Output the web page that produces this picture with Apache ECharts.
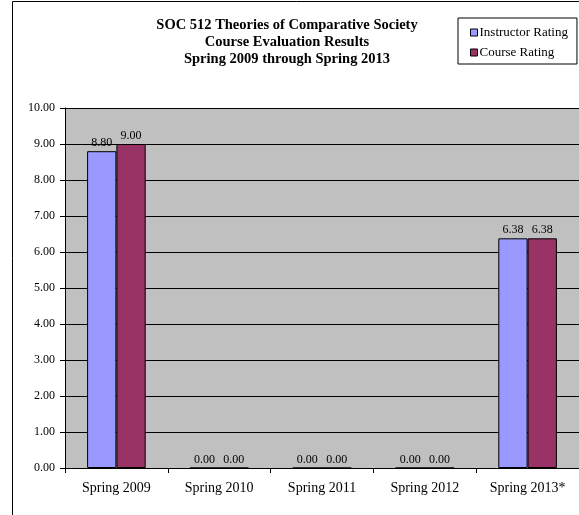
<!DOCTYPE html>
<html><head><meta charset="utf-8">
<script src="https://cdn.jsdelivr.net/npm/echarts@6/dist/echarts.min.js"></script>
<style>html,body{margin:0;padding:0;background:#fff}#c{width:579px;height:515px}</style>
</head><body><div id="c"></div>
<script>
const categories = ['Spring 2009','Spring 2010','Spring 2011','Spring 2012','Spring 2013*'];
const instructorRating = [8.80, 0, 0, 0, 6.38];
const courseRating = [9.00, 0, 0, 0, 6.38];
const seriesNames = ['Instructor Rating','Course Rating'];
const titleLines = ['SOC 512 Theories of Comparative Society','Course Evaluation Results','Spring 2009 through Spring 2013'];

const font = 'Liberation Serif, Times New Roman, serif';
const chart = echarts.init(document.getElementById('c'));
const lbl = {show:true, position:'top', distance:2, color:'#000', fontFamily:font, fontSize:12,
  formatter: p => p.value.toFixed(2)};
chart.setOption({
  animation:false,
  backgroundColor:'#fff',
  graphic:[{type:'rect', shape:{x:12.5, y:1.5, width:700, height:700}, style:{fill:'none', stroke:'#000', lineWidth:1}, z:-1}],
  title:{text:titleLines.join('\n'), left:282, textAlign:'center', top:12,
    textStyle:{fontFamily:font, fontSize:14.5, fontWeight:'bold', color:'#000', lineHeight:17}},
  legend:{orient:'vertical', left:458, top:18, padding:[8,9,5,12], itemGap:7,
    borderColor:'#000', borderWidth:1, backgroundColor:'#fff', icon:'rect', itemWidth:7, itemHeight:7,
    itemStyle:{borderColor:'#000', borderWidth:1},
    textStyle:{fontFamily:font, fontSize:13, color:'#000', padding:[0,0,0,-3]}, data:seriesNames},
  grid:{left:65, right:-1, top:108, bottom:47, backgroundColor:'#C0C0C0', show:true, borderWidth:0},
  xAxis:{type:'category', data:categories,
    axisLine:{lineStyle:{color:'#000'}}, axisTick:{show:true, length:5, lineStyle:{color:'#000'}},
    axisLabel:{fontFamily:font, fontSize:14, color:'#000', margin:13}},
  yAxis:{type:'value', min:0, max:10, interval:1,
    axisLine:{show:true, lineStyle:{color:'#000'}}, axisTick:{show:true, length:5, lineStyle:{color:'#000'}},
    splitLine:{lineStyle:{color:'#000', width:1}},
    axisLabel:{fontFamily:font, fontSize:12, color:'#000', margin:10, formatter:v=>v.toFixed(2)}},
  series:[
    {name:seriesNames[0], type:'bar', data:instructorRating, barGap:'0%', barCategoryGap:'43%',
     itemStyle:{color:'#9999FF', borderColor:'#000', borderWidth:1}, label:lbl},
    {name:seriesNames[1], type:'bar', data:courseRating,
     itemStyle:{color:'#993366', borderColor:'#000', borderWidth:1}, label:lbl}
  ]
});
</script></body></html>
